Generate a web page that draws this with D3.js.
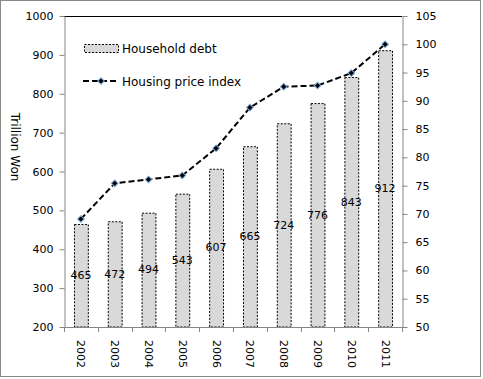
<!DOCTYPE html>
<html><head><meta charset="utf-8">
<script src="https://cdn.jsdelivr.net/npm/d3@7"></script>
<style>body{margin:0;background:#fff}svg{display:block}text{font-family:"DejaVu Sans",Verdana,sans-serif}</style>
</head><body>
<svg id="c" width="483" height="379"></svg>
<script>
const years = ["2002","2003","2004","2005","2006","2007","2008","2009","2010","2011"];
const householdDebt = [465,472,494,543,607,665,724,776,843,912];
const housingPriceIndex = [69.1,75.4,76.1,76.8,81.6,88.8,92.5,92.7,94.9,100];
const leftTicks = [200,300,400,500,600,700,800,900,1000];
const rightTicks = [50,55,60,65,70,75,80,85,90,95,100,105];

const svg = d3.select("#c");
const L = 64, R = 402, T = 16, B = 327;
const x = d3.scaleBand().domain(years).range([L, R]);
const yL = d3.scaleLinear().domain([200,1000]).range([B, T]);
const yR = d3.scaleLinear().domain([50,105]).range([B, T]);
const bw = x.bandwidth()*0.41;

// outer border
svg.append("rect").attr("x",0.5).attr("y",0.5).attr("width",480).attr("height",376)
  .attr("fill","none").attr("stroke","#888");

// top line of plot area
svg.append("line").attr("x1",L).attr("x2",R).attr("y1",T+0.5).attr("y2",T+0.5).attr("stroke","#000");

// bars
svg.append("g").selectAll("rect").data(years).join("rect")
  .attr("x", (d)=> x(d)+x.bandwidth()/2-bw/2+0.5)
  .attr("y", (d,i)=> yL(householdDebt[i])+0.5)
  .attr("width", bw)
  .attr("height", (d,i)=> B - yL(householdDebt[i]) - 0.5)
  .attr("fill","#d9d9d9").attr("stroke","#000").attr("stroke-width",1).attr("stroke-dasharray","2,1.5");

// bar labels
svg.append("g").selectAll("text").data(years).join("text")
  .attr("x", d=> x(d)+x.bandwidth()/2)
  .attr("y", (d,i)=> (yL(householdDebt[i])+B)/2)
  .attr("text-anchor","middle").attr("dominant-baseline","central")
  .attr("font-size",11).attr("fill","#000")
  .text((d,i)=>householdDebt[i]);

// left axis
const gL = svg.append("g").attr("transform",`translate(${L+0.5},0)`)
  .call(d3.axisLeft(yL).tickValues(leftTicks).tickFormat(d3.format("d")).tickSize(5).tickPadding(6).tickSizeOuter(0));
gL.select(".domain").attr("stroke","#868686");
gL.selectAll(".tick line").attr("stroke","#868686");
gL.selectAll("text").attr("font-size",11).attr("fill","#000").attr("font-family","DejaVu Sans");

// right axis
const gR = svg.append("g").attr("transform",`translate(${R+0.5},0)`)
  .call(d3.axisRight(yR).tickValues(rightTicks).tickFormat(d3.format("d")).tickSize(5).tickPadding(8).tickSizeOuter(0));
gR.select(".domain").attr("stroke","#868686");
gR.selectAll(".tick line").attr("stroke","#868686");
gR.selectAll("text").attr("font-size",11).attr("fill","#000").attr("font-family","DejaVu Sans");

// x axis
const gX = svg.append("g");
gX.append("line").attr("x1",L).attr("x2",R).attr("y1",B+0.5).attr("y2",B+0.5).attr("stroke","#868686");
const bounds = years.map(d=>x(d)).concat([R]);
gX.selectAll("line.t").data(bounds).join("line").attr("class","t")
  .attr("x1",d=>Math.round(d)+0.5).attr("x2",d=>Math.round(d)+0.5).attr("y1",B).attr("y2",B+5).attr("stroke","#868686");
gX.selectAll("text").data(years).join("text")
  .attr("transform", d=>`translate(${x(d)+x.bandwidth()/2},340) rotate(90)`)
  .attr("dominant-baseline","central").attr("text-anchor","start")
  .attr("font-size",11).attr("fill","#000").text(d=>d);

// y label
svg.append("text").attr("transform","translate(15,147) rotate(90)")
  .attr("text-anchor","middle").attr("dominant-baseline","central")
  .attr("font-size",12).attr("font-family","Liberation Sans, Arial, sans-serif").text("Trillion Won");

// line
const line = d3.line().x((d,i)=>x(years[i])+x.bandwidth()/2).y(d=>yR(d));
svg.append("path").datum(housingPriceIndex).attr("d",line)
  .attr("fill","none").attr("stroke","#000").attr("stroke-width",2).attr("stroke-dasharray","6,3");
const marker = d3.symbol().type(d3.symbolSquare).size(22);
svg.append("g").selectAll("path").data(housingPriceIndex).join("path")
  .attr("transform",(d,i)=>`translate(${x(years[i])+x.bandwidth()/2},${yR(d)}) rotate(45)`)
  .attr("d",marker).attr("fill","#000").attr("stroke","#7aa6d8").attr("stroke-width",1);

// legend
const lg = svg.append("g");
lg.append("rect").attr("x",84.5).attr("y",44.5).attr("width",34).attr("height",8)
  .attr("fill","#d9d9d9").attr("stroke","#000").attr("stroke-dasharray","2,1.5");
lg.append("text").attr("x",122).attr("y",48.5).attr("dominant-baseline","central")
  .attr("font-size",12).attr("font-family","Liberation Sans, Arial, sans-serif").text("Household debt");
lg.append("line").attr("x1",83).attr("x2",119).attr("y1",81).attr("y2",81)
  .attr("stroke","#000").attr("stroke-width",2).attr("stroke-dasharray","6,3");
lg.append("path").attr("transform","translate(101,81) rotate(45)").attr("d",marker)
  .attr("fill","#000").attr("stroke","#7aa6d8").attr("stroke-width",1);
lg.append("text").attr("x",122).attr("y",81.5).attr("dominant-baseline","central")
  .attr("font-size",12).attr("font-family","Liberation Sans, Arial, sans-serif").text("Housing price index");
</script>
</body></html>
